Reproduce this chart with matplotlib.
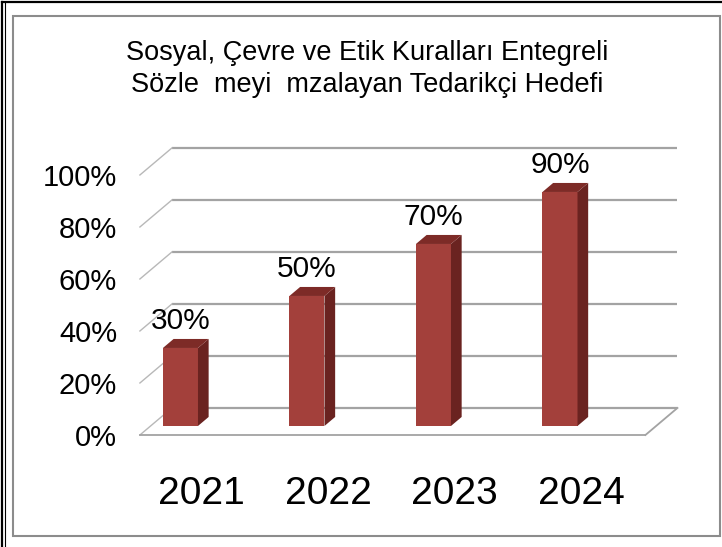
import matplotlib.pyplot as plt
from matplotlib.patches import Polygon, Rectangle
from matplotlib.lines import Line2D

years = ['2021', '2022', '2023', '2024']
targets = [30, 50, 70, 90]
yticks = [0, 20, 40, 60, 80, 100]
title = 'Sosyal, Çevre ve Etik Kuralları Entegreli\nSözle  meyi  mzalayan Tedarikçi Hedefi'

font = ['Liberation Sans Narrow', 'Liberation Sans', 'DejaVu Sans']

# fake 3d: depth offset of the whole box, in data units
DX = 0.253   # categories
DY = 10.4    # percent
W = 0.277    # bar width
xL, xR = -0.236, 3.76

front_c = '#A3403B'
side_c = '#6A2320'
top_c = '#7D2B27'
grid_c = '#A3A3A3'


def proj(c, v, d):
    return (c + d * DX, v + d * DY)


fig = plt.figure(figsize=(7.22, 5.47), dpi=100)
ax = fig.add_axes([0, 0, 1, 1])
ax.set_xlim(-1.342, 4.365)
ax.set_ylim(-43.08, 167.3)
ax.axis('off')

# frames
fig.add_artist(Line2D([0.003, 0.003], [0, 0.996], transform=fig.transFigure, color='black', lw=1.6))
fig.add_artist(Line2D([0.0075, 0.0075], [0, 0.996], transform=fig.transFigure, color='black', lw=0.8))
fig.add_artist(Line2D([0.003, 1], [0.996, 0.996], transform=fig.transFigure, color='black', lw=1.6))
fig.add_artist(Rectangle((0.018, 0.020), 0.979, 0.950, transform=fig.transFigure,
                         fill=False, edgecolor='#8C8C8C', lw=1.5))

# back wall gridlines + left side wall
for v in yticks:
    a, b = proj(xL, v, 1), proj(xR, v, 1)
    ax.plot([a[0], b[0]], [a[1], b[1]], color=grid_c, lw=1.6, solid_capstyle='butt')
    a, b = proj(xL, v, 0), proj(xL, v, 1)
    ax.plot([a[0], b[0]], [a[1], b[1]], color='#B8B8B8', lw=1.0)
    ax.text(-0.417, v - 1, f'{v}%', ha='right', va='center', fontsize=21, family=font)

# floor
a, b = proj(xL, 0, 0), proj(xR, 0, 0)
ax.plot([a[0], b[0]], [a[1], b[1]], color=grid_c, lw=1.3)
a, b = proj(xR, 0, 0), proj(xR, 0, 1)
ax.plot([a[0], b[0]], [a[1], b[1]], color=grid_c, lw=1.3)

# bars
xs = [i + DX / 3 for i in range(len(targets))]
ax.bar(xs, targets, width=W, bottom=DY / 3, color=front_c, zorder=3)
for i, val in enumerate(targets):
    l, r = i - W / 2, i + W / 2
    side = [proj(r, 0, 1 / 3), proj(r, 0, 2 / 3), proj(r, val, 2 / 3), proj(r, val, 1 / 3)]
    top = [proj(l, val, 1 / 3), proj(r, val, 1 / 3), proj(r, val, 2 / 3), proj(l, val, 2 / 3)]
    ax.add_patch(Polygon(side, closed=True, facecolor=side_c, edgecolor='none', zorder=3))
    ax.add_patch(Polygon(top, closed=True, facecolor=top_c, edgecolor='none', zorder=3))
    ax.text(xs[i], val + DY / 3 + 10.4, f'{val}%', ha='center', va='center',
            fontsize=21.5, family=font, zorder=4)
    ax.text(i + DX, -22.7, years[i], ha='center', va='center', fontsize=28, family=font)

fig.text(0.508, 0.874, title, ha='center', va='center', fontsize=19.5,
         family=font, linespacing=1.3)

fig.savefig('out.png', dpi=100)
